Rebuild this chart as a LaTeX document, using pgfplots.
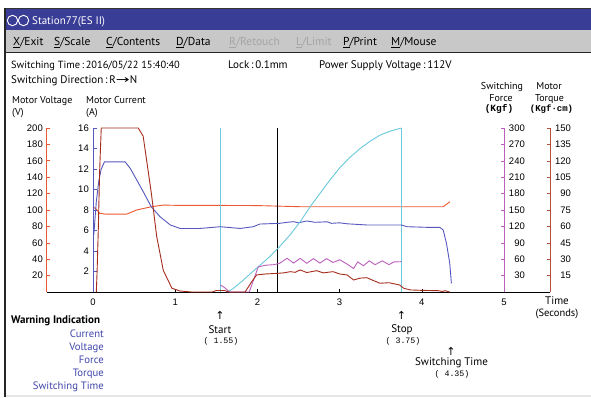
\documentclass[border=0pt]{standalone}
\usepackage{fontspec}
\setmainfont{PT Sans}
\newfontfamily\numfont{Liberation Sans}
\newfontfamily\monofont{Liberation Mono}
\newfontfamily\symfont{DejaVu Sans}
\usepackage{graphicx}
\usepackage{pgfplots}
\pgfplotsset{compat=1.18}
\definecolor{titleblue}{RGB}{58,61,150}
\definecolor{menugrey}{RGB}{200,200,200}
\definecolor{volt}{RGB}{238,88,48}
\definecolor{curr}{RGB}{85,88,190}
\definecolor{forcecol}{RGB}{190,95,190}
\definecolor{torq}{RGB}{165,45,30}
\definecolor{torqax}{RGB}{180,80,60}
\definecolor{cyanline}{RGB}{105,200,220}
\definecolor{warn}{RGB}{65,70,170}
\definecolor{disabled}{RGB}{165,165,165}

\pgfplotsset{
  base/.style={x=82.2pt, xmin=-0.56, xmax=5.56, ymin=0, at={(47pt,105pt)}, anchor=south west,
    clip=false, tick align=inside, major tick length=3.5pt,
    /pgf/number format/assume math mode=true,
    ticklabel style={font=\numfont\fontsize{9.5}{10}\selectfont, inner sep=0pt},
    every axis plot/.append style={line width=0.9pt, mark=none}},
  noX/.style={axis x line=none, xtick=\empty}
}

\begin{document}
\begin{tikzpicture}[x=1pt,y=1pt]
\useasboundingbox (0,0) rectangle (591,397);
\fill[white] (0,0) rectangle (591,397);
% window frame
\fill[titleblue] (4,367) rectangle (591,388.5);
\draw[black!80, line width=0.8pt] (4,388.5) -- (591,388.5);
\fill[menugrey] (4,345) rectangle (591,367);
\draw[black!85, line width=1.2pt] (4,344.5) -- (591,344.5);
\draw[black!85, line width=2pt] (5,0) -- (5,389);
\fill[black!10] (6,0) rectangle (591,2);
% title
\draw[white, line width=0.9pt] (12.5,376.5) circle (5.2) (23.5,376.5) circle (5.2);
\node[anchor=base west, white, inner sep=0pt, font=\fontsize{11}{13}\selectfont] at (32,372.5) {Station77(ES II)};
% menu
\begin{scope}[every node/.style={anchor=base west, inner sep=0pt, font=\fontsize{11.5}{13}\selectfont}]
\node at (13,351.5) {\underline{X}/Exit};
\node at (54,351.5) {\underline{S}/Scale};
\node at (106,351.5) {\underline{C}/Contents};
\node at (176,351.5) {\underline{D}/Data};
\node[disabled] at (229,351.5) {\underline{R}/Retouch};
\node[disabled] at (296,351.5) {\underline{L}/Limit};
\node at (343,351.5) {\underline{P}/Print};
\node at (391,351.5) {\underline{M}/Mouse};
\end{scope}
% info
\begin{scope}[every node/.style={anchor=base west, inner sep=0pt, font=\fontsize{11}{13}\selectfont}]
\node[font=\fontsize{10.4}{13}\selectfont] at (11,328) {Switching Time\,:\,2016/05/22 15:40:40};
\node at (228,328) {Lock\,:\,0.1mm};
\node at (319,328) {Power Supply Voltage\,:\,112V};
\node at (11,313) {Switching Direction\,:\,R{\symfont\scalebox{1.5}[1]{→}}N};
\end{scope}
% axis titles
\begin{scope}[every node/.style={inner sep=0pt, font=\fontsize{10}{11}\selectfont}]
\node[anchor=base west] at (12,293) {Motor Voltage};
\node[anchor=base west] at (12,281) {(V)};
\node[anchor=base west] at (86,293) {Motor Current};
\node[anchor=base west] at (86,281) {(A)};
\node[anchor=base] at (502,307) {Switching};
\node[anchor=base] at (501,295) {Force};
\node[anchor=base, font=\monofont\bfseries\fontsize{9.5}{10}\selectfont] at (499,285) {(Kgf)};
\node[anchor=base] at (549,307) {Motor};
\node[anchor=base] at (549.5,295) {Torque};
\node[anchor=base, font=\monofont\bfseries\fontsize{9}{10}\selectfont] at (551.5,285) {(Kgf·cm)};
\node[anchor=base, font=\fontsize{11}{12}\selectfont] at (557,93) {Time};
\node[anchor=base, font=\fontsize{10.5}{12}\selectfont] at (557,81) {(Seconds)};
\end{scope}
% warning indication
\begin{scope}[every node/.style={inner sep=0pt, font=\fontsize{10.7}{12}\selectfont}]
\node[anchor=base west, font=\bfseries\fontsize{11}{12}\selectfont] at (11,74) {Warning Indication};
\node[anchor=base east, warn] at (104,60) {Current};
\node[anchor=base east, warn] at (104,47) {Voltage};
\node[anchor=base east, warn] at (104,34) {Force};
\node[anchor=base east, warn] at (104,21) {Torque};
\node[anchor=base east, warn] at (104,8) {Switching Time};
% markers
\node[font=\symfont\fontsize{11}{12}\selectfont] at (220,81.5) {↑};
\node[font=\fontsize{11}{12}\selectfont] at (220,67.5) {Start};
\node[font=\monofont\fontsize{8.3}{9}\selectfont] at (221,55.5) {( 1.55)};
\node[font=\symfont\fontsize{11}{12}\selectfont] at (401.5,81.5) {↑};
\node[font=\fontsize{11}{12}\selectfont] at (402,67.5) {Stop};
\node[font=\monofont\fontsize{8.3}{9}\selectfont] at (403,55.5) {( 3.75)};
\node[font=\symfont\fontsize{11}{12}\selectfont] at (451,45.5) {↑};
\node[font=\fontsize{11}{12}\selectfont] at (451.5,34) {Switching Time};
\node[font=\monofont\fontsize{8.3}{9}\selectfont] at (452,22.5) {( 4.35)};
\end{scope}

% ---------- Voltage axis ----------
\begin{axis}[base, ymax=200, y=0.82pt,
  axis x line*=bottom, axis y line*=left,
  x axis line style={black, line width=1pt}, y axis line style={volt, line width=1pt},
  xtick={0,1,2,3,4,5}, ytick={20,40,...,200},
  xtick style={black, line width=0.6pt}, ytick style={volt, line width=0.6pt},
  yticklabel style={anchor=east, xshift=-4pt},
  xticklabel style={anchor=north, yshift=-7pt}]
\addplot[volt] table {
0.00 104
0.04 101
0.08 96
0.15 95
0.25 95
0.41 95
0.53 100
0.71 104
0.855 106
1.06 105.6
1.50 105.6
2.00 105.4
2.52 104
3.00 104
3.50 104
4.00 104
4.26 104
4.34 110
};
\end{axis}

% ---------- Current axis ----------
\begin{axis}[base, xmin=0, at={(93pt,105pt)}, ymax=16, y=10.25pt,
  noX, axis y line*=left, y axis line style={curr, line width=1pt},
  ytick={2,4,...,16}, ytick style={curr, line width=0.6pt},
  yticklabel style={anchor=east, xshift=-4pt}]
\addplot[cyanline, line width=1pt] coordinates {(1.55,0) (1.55,16)};
\addplot[cyanline, line width=1pt] coordinates {(3.75,0) (3.75,16)};
\addplot[black, line width=1pt] coordinates {(2.25,0) (2.25,16)};
\addplot[curr] table {
0.01 5.6
0.04 8.8
0.07 10.8
0.10 12.0
0.14 12.7
0.39 12.7
0.45 12.1
0.51 11.25
0.61 9.8
0.71 8.3
0.815 7.35
0.94 6.54
1.06 6.2
1.30 6.2
1.55 6.37
1.79 6.2
1.95 6.37
2.03 6.63
2.27 6.7
2.36 6.8
2.44 6.86
2.50 6.75
2.60 6.93
2.70 6.8
2.85 6.85
2.90 6.7
3.00 6.75
3.10 6.65
3.33 6.54
3.60 6.54
3.75 6.54
3.82 6.37
4.10 6.3
4.22 6.3
4.26 6.05
4.30 4.75
4.34 2.8
4.36 0.84
};
\addplot[cyanline] table {
1.63 0
1.70 0.3
1.83 1.17
1.93 1.9
2.03 2.6
2.15 3.45
2.25 4.26
2.40 5.6
2.52 6.85
2.64 8.3
2.76 9.6
2.88 10.9
3.00 12.1
3.12 13.1
3.25 14.0
3.37 14.7
3.49 15.3
3.62 15.7
3.75 16.0
};
\end{axis}

% ---------- Force axis ----------
\begin{axis}[base, xmax=5, ymax=300, y=0.546667pt,
  noX, axis y line*=right, y axis line style={forcecol, line width=1pt},
  ytick={30,60,...,300}, ytick style={forcecol, line width=0.6pt},
  yticklabel style={anchor=east, xshift=21pt}]
\addplot[forcecol] table {
1.55 12.8
1.60 8
1.66 0
1.90 0
1.96 25
2.01 46
2.10 49
2.20 50
2.27 52.5
2.36 61.6
2.44 53
2.52 61.6
2.60 52.5
2.68 61
2.76 53
2.84 61
2.92 54
3.00 59
3.08 52
3.17 43
3.22 55
3.29 48
3.36 57
3.43 50
3.52 57
3.60 50
3.66 55
3.75 55.5
};
\end{axis}

% ---------- Torque axis ----------
\begin{axis}[base, ymax=150, y=1.093333pt,
  noX, axis y line*=right, y axis line style={torqax, line width=1pt},
  ytick={15,30,...,150}, ytick style={torqax, line width=0.6pt},
  yticklabel style={anchor=east, xshift=21pt}]
\addplot[torq] table {
0.04 0
0.05 20
0.065 60
0.08 110
0.10 150
0.55 150
0.61 142.5
0.71 90
0.775 50.6
0.855 19.7
0.96 3.4
1.06 0.9
1.20 0
1.45 0
1.50 1.4
1.60 1.4
1.65 0
1.85 0
1.93 9.4
1.99 15.6
2.10 16.5
2.25 17.1
2.32 17.5
2.40 18.6
2.46 18.0
2.52 20.2
2.60 17.8
2.72 19.5
2.80 17.5
2.92 18.6
3.00 16.5
3.09 15.6
3.17 11.0
3.25 12.7
3.33 13.1
3.41 10.5
3.49 8.0
3.60 8.5
3.73 6.4
3.78 3.4
3.86 1.9
4.00 1.5
4.20 1.2
4.25 0.5
4.28 1.2
4.34 0
};
\end{axis}
\end{tikzpicture}
\end{document}
